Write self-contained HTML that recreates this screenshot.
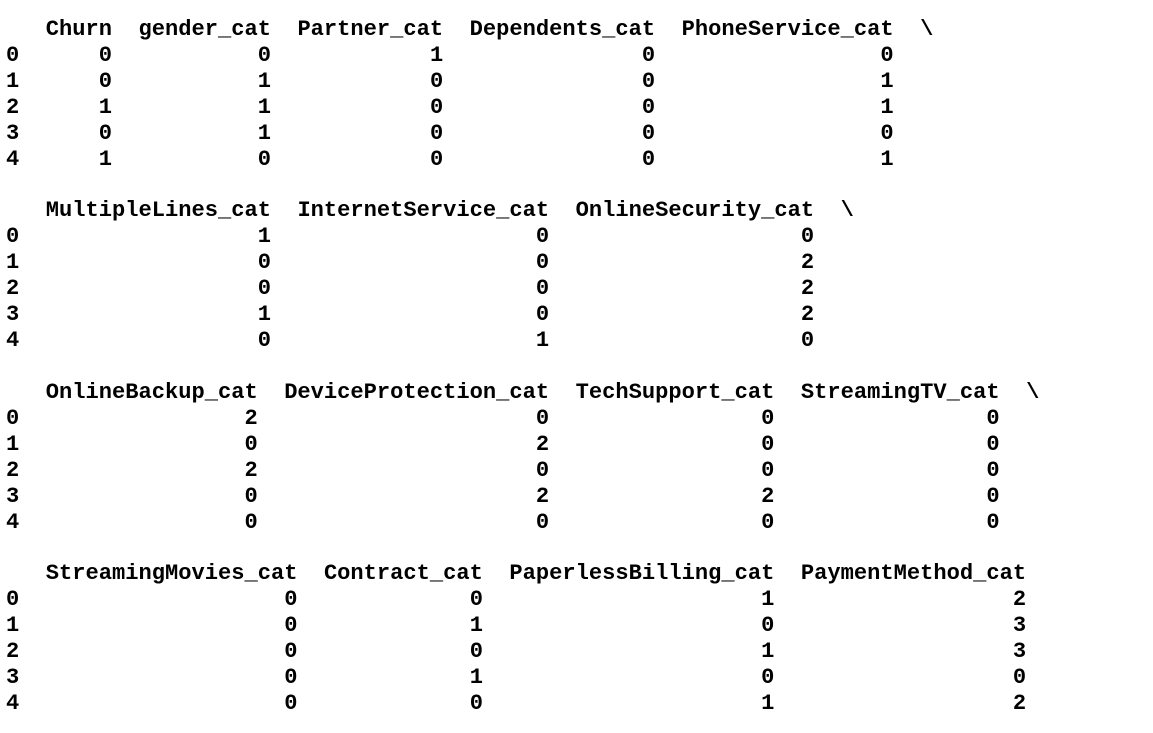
<!DOCTYPE html>
<html><head><meta charset="utf-8"><style>
html,body{margin:0;padding:0;background:#fff;width:1153px;height:733px;overflow:hidden}
#t{position:absolute;left:6px;top:17px;font-family:"Liberation Mono","DejaVu Sans Mono",monospace;font-size:22.08px;font-weight:bold;line-height:25.93px;color:#000}
.l{height:25.93px;white-space:nowrap}
.l span{display:inline-block;text-align:right;white-space:pre}
</style></head><body><div id="t"><div class="l"><span style="width:1ch"> </span><span style="width:7ch">Churn</span><span style="width:12ch">gender_cat</span><span style="width:13ch">Partner_cat</span><span style="width:16ch">Dependents_cat</span><span style="width:18ch">PhoneService_cat</span><span style="width:3ch">\</span></div><div class="l"><span style="width:1ch">0</span><span style="width:7ch">0</span><span style="width:12ch">0</span><span style="width:13ch">1</span><span style="width:16ch">0</span><span style="width:18ch">0</span></div><div class="l"><span style="width:1ch">1</span><span style="width:7ch">0</span><span style="width:12ch">1</span><span style="width:13ch">0</span><span style="width:16ch">0</span><span style="width:18ch">1</span></div><div class="l"><span style="width:1ch">2</span><span style="width:7ch">1</span><span style="width:12ch">1</span><span style="width:13ch">0</span><span style="width:16ch">0</span><span style="width:18ch">1</span></div><div class="l"><span style="width:1ch">3</span><span style="width:7ch">0</span><span style="width:12ch">1</span><span style="width:13ch">0</span><span style="width:16ch">0</span><span style="width:18ch">0</span></div><div class="l"><span style="width:1ch">4</span><span style="width:7ch">1</span><span style="width:12ch">0</span><span style="width:13ch">0</span><span style="width:16ch">0</span><span style="width:18ch">1</span></div><div class="l"></div><div class="l"><span style="width:1ch"> </span><span style="width:19ch">MultipleLines_cat</span><span style="width:21ch">InternetService_cat</span><span style="width:20ch">OnlineSecurity_cat</span><span style="width:3ch">\</span></div><div class="l"><span style="width:1ch">0</span><span style="width:19ch">1</span><span style="width:21ch">0</span><span style="width:20ch">0</span></div><div class="l"><span style="width:1ch">1</span><span style="width:19ch">0</span><span style="width:21ch">0</span><span style="width:20ch">2</span></div><div class="l"><span style="width:1ch">2</span><span style="width:19ch">0</span><span style="width:21ch">0</span><span style="width:20ch">2</span></div><div class="l"><span style="width:1ch">3</span><span style="width:19ch">1</span><span style="width:21ch">0</span><span style="width:20ch">2</span></div><div class="l"><span style="width:1ch">4</span><span style="width:19ch">0</span><span style="width:21ch">1</span><span style="width:20ch">0</span></div><div class="l"></div><div class="l"><span style="width:1ch"> </span><span style="width:18ch">OnlineBackup_cat</span><span style="width:22ch">DeviceProtection_cat</span><span style="width:17ch">TechSupport_cat</span><span style="width:17ch">StreamingTV_cat</span><span style="width:3ch">\</span></div><div class="l"><span style="width:1ch">0</span><span style="width:18ch">2</span><span style="width:22ch">0</span><span style="width:17ch">0</span><span style="width:17ch">0</span></div><div class="l"><span style="width:1ch">1</span><span style="width:18ch">0</span><span style="width:22ch">2</span><span style="width:17ch">0</span><span style="width:17ch">0</span></div><div class="l"><span style="width:1ch">2</span><span style="width:18ch">2</span><span style="width:22ch">0</span><span style="width:17ch">0</span><span style="width:17ch">0</span></div><div class="l"><span style="width:1ch">3</span><span style="width:18ch">0</span><span style="width:22ch">2</span><span style="width:17ch">2</span><span style="width:17ch">0</span></div><div class="l"><span style="width:1ch">4</span><span style="width:18ch">0</span><span style="width:22ch">0</span><span style="width:17ch">0</span><span style="width:17ch">0</span></div><div class="l"></div><div class="l"><span style="width:1ch"> </span><span style="width:21ch">StreamingMovies_cat</span><span style="width:14ch">Contract_cat</span><span style="width:22ch">PaperlessBilling_cat</span><span style="width:19ch">PaymentMethod_cat</span></div><div class="l"><span style="width:1ch">0</span><span style="width:21ch">0</span><span style="width:14ch">0</span><span style="width:22ch">1</span><span style="width:19ch">2</span></div><div class="l"><span style="width:1ch">1</span><span style="width:21ch">0</span><span style="width:14ch">1</span><span style="width:22ch">0</span><span style="width:19ch">3</span></div><div class="l"><span style="width:1ch">2</span><span style="width:21ch">0</span><span style="width:14ch">0</span><span style="width:22ch">1</span><span style="width:19ch">3</span></div><div class="l"><span style="width:1ch">3</span><span style="width:21ch">0</span><span style="width:14ch">1</span><span style="width:22ch">0</span><span style="width:19ch">0</span></div><div class="l"><span style="width:1ch">4</span><span style="width:21ch">0</span><span style="width:14ch">0</span><span style="width:22ch">1</span><span style="width:19ch">2</span></div></div></body></html>
